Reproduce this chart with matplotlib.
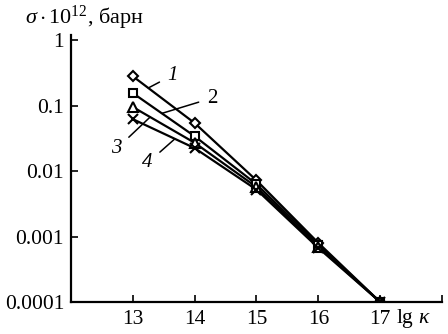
import numpy as np
import matplotlib
matplotlib.use("Agg")
import matplotlib.pyplot as plt

plt.rcParams['font.family'] = ['Liberation Serif', 'DejaVu Serif']
plt.rcParams['mathtext.fontset'] = 'custom'
plt.rcParams['mathtext.rm'] = 'Liberation Serif'
plt.rcParams['mathtext.it'] = 'Liberation Serif:italic'

# -------- DATA --------
lgk = [13, 14, 15, 16, 17]
sigma_1 = [0.28, 0.054, 0.0072, 0.0008, 0.0001]
sigma_2 = [0.155, 0.034, 0.0063, 0.00075, 0.0001]
sigma_3 = [0.095, 0.027, 0.0057, 0.0007, 0.0001]
sigma_4 = [0.062, 0.0224, 0.0052, 0.00067, 0.0001]

series = [
    (sigma_1, 'D', 5.5, '1', 'italic'),
    (sigma_2, 's', 6.0, '2', 'normal'),
    (sigma_3, '^', 6.5, '3', 'italic'),
    (sigma_4, 'x', 6.5, '4', 'italic'),
]

ytick_vals = [1, 0.1, 0.01, 0.001, 0.0001]
ytick_labels = ['1', '0.1', '0.01', '0.001', '0.0001']

# -------- PLOT --------
fig = plt.figure(figsize=(4.48, 3.34), dpi=100)
ax = fig.add_axes([0.1585, 0.0958, 0.828, 0.799])

for vals, mk, ms, _, _ in series:
    ax.plot(lgk, vals, color='black', lw=1.6, zorder=2)
    ax.plot(lgk, vals, ls='none', marker=mk, ms=ms, mfc='white',
            mec='black', mew=1.5, zorder=3)


def on_line(vals, x):
    return 10 ** np.interp(x, lgk, np.log10(vals))


# curve numbers with leader lines: (series, x on line, text x, text y)
labels = [
    (0, 13.25, 13.64, 0.29),
    (1, 13.47, 14.28, 0.13),
    (2, 13.28, 12.74, 0.022),
    (3, 13.68, 13.24, 0.0133),
]
for i, xl, tx, ty in labels:
    vals, _, _, txt, style = series[i]
    ax.annotate(txt, xy=(xl, on_line(vals, xl)), xytext=(tx, ty),
                fontsize=15, fontstyle=style, ha='center', va='center',
                arrowprops=dict(arrowstyle='-', lw=1.1, color='black',
                                shrinkA=4, shrinkB=0))

ax.set_yscale('log')
ax.set_xlim(12, 18)
ax.set_ylim(1e-4, 1.19)
ax.set_yticks(ytick_vals)
ax.set_yticklabels(ytick_labels)
ax.yaxis.set_minor_locator(matplotlib.ticker.NullLocator())
ax.set_xticks([13, 14, 15, 16, 17, 18])
ax.set_xticklabels(['13', '14', '15', '16', '17', ''])
ax.tick_params(direction='in', length=5, width=1.2, labelsize=15.5)
ax.tick_params(axis='y', pad=5)
ax.tick_params(axis='x', pad=6)

for s in ['top', 'right']:
    ax.spines[s].set_visible(False)
for s in ['left', 'bottom']:
    ax.spines[s].set_linewidth(1.6)

fig.text(0.055, 0.945, '$\\sigma\\cdot10^{12}$, барн', fontsize=16,
         ha='left', va='center')
fig.text(0.885, 0.045, 'lg $\\it{\\kappa}$', fontsize=15.5, ha='left', va='center')

fig.savefig('out.png', dpi=100)
